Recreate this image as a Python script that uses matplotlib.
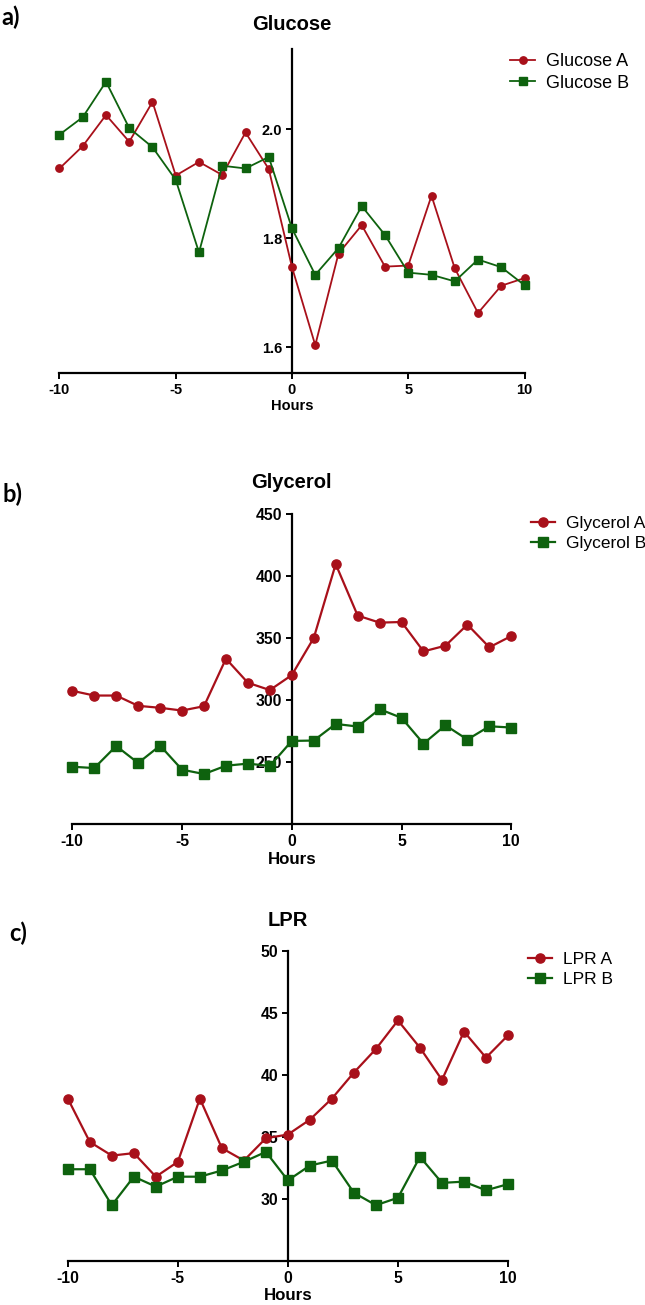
import matplotlib
matplotlib.use("Agg")
import matplotlib.pyplot as plt
import numpy as np

hours = list(range(-10, 11))

glucose_a = [1.928, 1.969, 2.026, 1.977, 2.050, 1.915, 1.940, 1.916, 1.994, 1.927,
             1.747, 1.604, 1.772, 1.824, 1.748, 1.750, 1.878, 1.745, 1.663, 1.713, 1.727]
glucose_b = [1.990, 2.022, 2.087, 2.002, 1.967, 1.907, 1.774, 1.933, 1.928, 1.949,
             1.818, 1.733, 1.782, 1.859, 1.806, 1.737, 1.733, 1.721, 1.761, 1.747, 1.714]

glycerol_a = [307.4, 303.6, 303.6, 295.3, 293.7, 291.5, 295.0, 333.3, 313.9, 308.0,
              320.1, 350.0, 409.6, 368.1, 362.4, 362.9, 339.2, 343.8, 360.8, 342.5, 351.6]
glycerol_b = [246.2, 245.1, 262.9, 249.2, 263.2, 243.8, 240.3, 247.0, 248.7, 246.8,
              267.0, 267.3, 280.7, 278.6, 292.6, 285.6, 264.8, 279.6, 268.1, 278.8, 277.8]

lpr_a = [38.1, 34.6, 33.5, 33.7, 31.8, 33.0, 38.1, 34.1, 33.1, 34.9,
         35.2, 36.4, 38.1, 40.2, 42.1, 44.4, 42.2, 39.6, 43.5, 41.4, 43.2]
lpr_b = [32.4, 32.4, 29.5, 31.8, 31.0, 31.8, 31.8, 32.3, 33.0, 33.8,
         31.5, 32.7, 33.1, 30.5, 29.5, 30.1, 33.4, 31.3, 31.4, 30.7, 31.2]

x_ticks = [-10, -5, 0, 5, 10]

RED = "#A8101A"
GREEN = "#0E620E"

W, H = 645, 1305
fig = plt.figure(figsize=(W / 100, H / 100), dpi=100)
plt.rcParams['font.family'] = ['Liberation Sans', 'DejaVu Sans']


def px_axes(x_m10, x_10, y_bottom, y_top, pad=0.3):
    ppu = (x_10 - x_m10) / 20.0
    left = x_m10 - pad * ppu
    width = (20 + 2 * pad) * ppu
    return [left / W, 1 - y_bottom / H, width / W, (y_bottom - y_top) / H]


panels = [
    dict(rect=px_axes(59.5, 524.5, 373, 49), ya=glucose_a, yb=glucose_b,
         names=("Glucose A", "Glucose B"), title="Glucose", ylim=(1.553, 2.147),
         yticks=[1.6, 1.8, 2.0], yfmt="{:.1f}", tfs=10.5, xlfs=10.5, lgfs=13,
         ms=5.3, lw=1.3, title_y=25, label="a)", label_xy=(1, 17),
         legend_anchor=(510, 53), tick_pad=3, xlab_pad=2),
    dict(rect=px_axes(72.3, 511.3, 824, 514), ya=glycerol_a, yb=glycerol_b,
         names=("Glycerol A", "Glycerol B"), title="Glycerol", ylim=(200, 450),
         yticks=[250, 300, 350, 400, 450], yfmt="{:.0f}", tfs=11.3, xlfs=12.2, lgfs=12.5,
         ms=6.6, lw=1.6, title_y=483, label="b)", label_xy=(3, 494),
         legend_anchor=(531, 516), tick_pad=3, xlab_pad=2),
    dict(rect=px_axes(67.8, 508, 1261, 951), ya=lpr_a, yb=lpr_b,
         names=("LPR A", "LPR B"), title="LPR", ylim=(25, 50),
         yticks=[30, 35, 40, 45, 50], yfmt="{:.0f}", tfs=11.3, xlfs=12.2, lgfs=12.5,
         ms=6.6, lw=1.6, title_y=921, label="c)", label_xy=(9, 933),
         legend_anchor=(528, 952), tick_pad=3, xlab_pad=2),
]

for p in panels:
    ax = fig.add_axes(p["rect"])
    ax.plot(hours, p["ya"], color=RED, marker="o", ms=p["ms"], lw=p["lw"],
            label=p["names"][0], clip_on=False, zorder=3)
    ax.plot(hours, p["yb"], color=GREEN, marker="s", ms=p["ms"], lw=p["lw"],
            label=p["names"][1], clip_on=False, zorder=3)
    ax.set_xlim(-10.3, 10.3)
    ax.set_ylim(*p["ylim"])
    ax.spines["top"].set_visible(False)
    ax.spines["right"].set_visible(False)
    ax.spines["left"].set_position(("data", 0))
    ax.spines["bottom"].set_bounds(-10, 10)
    for s in ("left", "bottom"):
        ax.spines[s].set_linewidth(1.6)
        ax.spines[s].set_zorder(2)
    ax.set_xticks(x_ticks)
    ax.set_xticklabels([str(v) for v in x_ticks], fontsize=p["tfs"], fontweight="bold")
    ax.set_yticks(p["yticks"])
    ax.set_yticklabels([p["yfmt"].format(v) for v in p["yticks"]],
                       fontsize=p["tfs"], fontweight="bold")
    ax.tick_params(axis="both", direction="out", length=4, width=1.4, pad=p["tick_pad"])
    ax.set_xlabel("Hours", fontsize=p["xlfs"], fontweight="bold", labelpad=p["xlab_pad"])
    ax.set_facecolor("none")
    # title centred on x = 0
    x0_fig = fig.transFigure.inverted().transform(ax.transData.transform((0, 0)))[0]
    fig.text(x0_fig, 1 - p["title_y"] / H, p["title"], ha="center", va="center",
             fontsize=14.5, fontweight="bold")
    fig.text(p["label_xy"][0] / W, 1 - p["label_xy"][1] / H, p["label"], ha="left",
             va="center", fontsize=17, fontweight="bold", family=["Lato", "DejaVu Sans"])
    leg = fig.legend(handles=ax.get_lines(), loc="upper left",
                     bbox_to_anchor=(p["legend_anchor"][0] / W, 1 - p["legend_anchor"][1] / H),
                     frameon=False, fontsize=p["lgfs"], handlelength=1.4,
                     handletextpad=0.6, borderaxespad=0, borderpad=0, labelspacing=0.25)

fig.savefig("out.png", dpi=100)
